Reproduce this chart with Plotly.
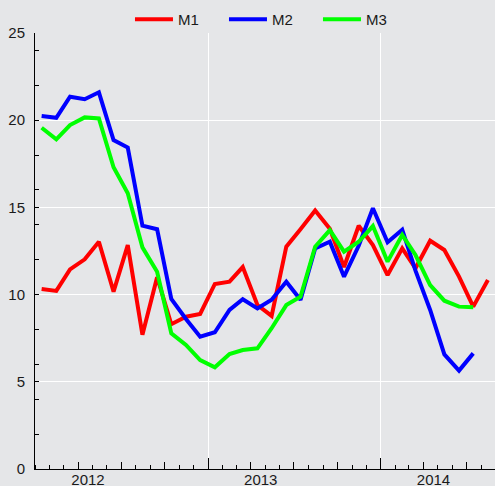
import plotly.graph_objects as go

# Monthly dates (mid-month), Jan 2012 .. Aug 2014
months = [f"{y}-{m:02d}-15" for y in (2012, 2013, 2014) for m in range(1, 13)][:32]

m1 = [10.32, 10.21, 11.45, 12.02, 13.03, 10.17, 12.84, 7.7, 11.0, 8.3, 8.73, 8.89,
      10.61, 10.74, 11.58, 9.4, 8.78, 12.75, 13.75, 14.82, 13.77, 11.58, 13.95, 12.84,
      11.12, 12.65, 11.51, 13.09, 12.56, 11.03, 9.31, 10.84]
m2 = [20.24, 20.14, 21.35, 21.2, 21.6, 18.86, 18.43, 13.95, 13.75, 9.75, 8.6, 7.59,
      7.84, 9.12, 9.73, 9.21, 9.7, 10.74, 9.7, 12.65, 13.03, 11.03, 12.8, 14.95,
      13.0, 13.72, 11.37, 9.12, 6.57, 5.64, 6.63]
m3 = [19.57, 18.9, 19.72, 20.16, 20.1, 17.3, 15.81, 12.71, 11.31, 7.78, 7.11, 6.25,
      5.83, 6.59, 6.82, 6.92, 8.07, 9.4, 9.88, 12.75, 13.7, 12.46, 13.03, 13.93,
      11.89, 13.42, 12.27, 10.55, 9.65, 9.31, 9.27]

series_names = ["M1", "M2", "M3"]
series_colors = ["#ff0000", "#0000ff", "#00ff00"]

year_label_pos = ["2012-04-22", "2013-04-22", "2014-04-22"]
year_labels = ["2012", "2013", "2014"]
year_starts = ["2012-01-01", "2013-01-01", "2014-01-01"]
quarter_starts = [f"{y}-{m:02d}-01" for y in (2012, 2013, 2014) for m in (4, 7, 10)]
month_starts = [f"{y}-{m:02d}-01" for y in (2012, 2013, 2014) for m in range(1, 13)] + ["2014-09-01"]

x_range = ["2012-01-01", "2014-08-30"]
FONT = "Liberation Sans, Arial, sans-serif"
BG = "#e5e6e8"

fig = go.Figure()
for name, vals, col in zip(series_names, [m1, m2, m3], series_colors):
    fig.add_trace(go.Scatter(x=months[:len(vals)], y=vals, mode="lines", name=name,
                             line=dict(color=col, width=4)))
# helper trace so the overlay axis is drawn
fig.add_trace(go.Scatter(x=[], y=[], xaxis="x2", showlegend=False, hoverinfo="skip"))

fig.update_layout(
    width=495, height=486,
    margin=dict(l=35, r=0, t=33, b=17, autoexpand=False),
    paper_bgcolor=BG, plot_bgcolor=BG,
    font=dict(family=FONT, size=15, color="#1a1a1a"),
    showlegend=True,
    legend=dict(orientation="h", x=0.513, xanchor="center", y=0.993, yanchor="bottom",
                bgcolor="rgba(0,0,0,0)", font=dict(size=15), itemwidth=38,
                entrywidth=41, entrywidthmode="pixels"),
    xaxis=dict(type="date", range=x_range, showgrid=False, zeroline=False,
               automargin=False,
               showline=True, linecolor="#000000", linewidth=1,
               tickmode="array", tickvals=year_label_pos, ticktext=year_labels,
               ticks="", ticklabelstandoff=-3,
               minor=dict(tickmode="array", tickvals=month_starts, ticks="inside",
                          ticklen=4, tickcolor="#000000", tickwidth=1, showgrid=False)),
    xaxis2=dict(type="date", range=x_range, overlaying="x", side="bottom",
                automargin=False,
                showline=False, showticklabels=False, zeroline=False,
                tickmode="array", tickvals=year_starts, ticks="inside", ticklen=11,
                tickcolor="#000000", tickwidth=1,
                showgrid=True, gridcolor="#ffffff", gridwidth=1,
                minor=dict(tickmode="array", tickvals=quarter_starts, ticks="inside",
                           ticklen=7, tickcolor="#000000", tickwidth=1, showgrid=False)),
    yaxis=dict(range=[0, 25], showline=True, linecolor="#000000", linewidth=1,
               automargin=False,
               zeroline=False, tickmode="array", tickvals=[0, 5, 10, 15, 20, 25],
               ticks="inside", ticklen=4, tickcolor="#000000",
               showgrid=True, gridcolor="#ffffff", gridwidth=1,
               ticklabelstandoff=6,
               minor=dict(tickmode="array", tickvals=list(range(2, 25, 2)),
                          ticks="inside", ticklen=4, tickcolor="#000000",
                          showgrid=False)),
)

fig.write_html("out.html", config={"displayModeBar": False},
               post_script="document.body.style.margin='0';document.body.style.padding='0';")
